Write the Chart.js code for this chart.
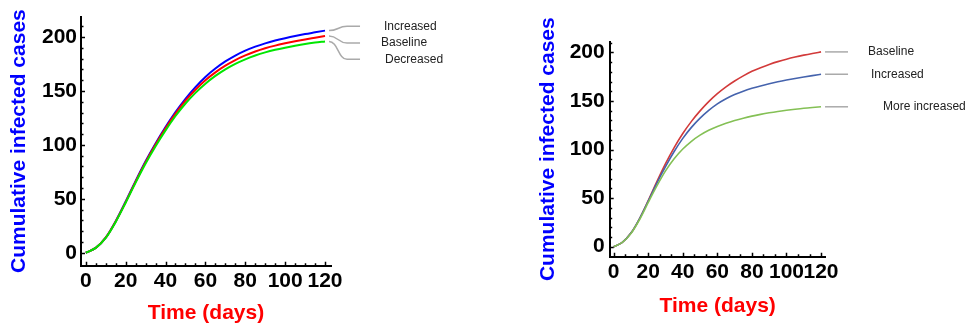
<!DOCTYPE html>
<html>
<head>
<meta charset="utf-8">
<script src="https://cdn.jsdelivr.net/npm/chart.js@4.4.1/dist/chart.umd.min.js"></script>
<style>
  body { margin: 0; background: #fff; width: 966px; height: 326px; overflow: hidden; position: relative; }
  canvas { position: absolute; top: 0; }
  #leftChart { left: 0; }
  #rightChart { left: 500px; }
</style>
</head>
<body>
<canvas id="leftChart" width="480" height="326"></canvas>
<canvas id="rightChart" width="466" height="326"></canvas>
<script>
// ===== Data =====
const days = [0, 5, 10, 15, 20, 25, 30, 35, 40, 45, 50, 55, 60, 65, 70, 75, 80, 85, 90, 95, 100, 105, 110, 115, 120];

// left panel
const leftIncreased = [0, 4.5, 14, 29.3, 47.5, 66.6, 84.8, 101.3, 116.5, 130.4, 142.8, 153.6, 163, 170.8, 177.4, 182.9, 187.4, 191.1, 194.2, 196.8, 199, 201, 202.8, 204.4, 206];
const leftBaseline  = [0, 4.5, 14, 29, 47, 66, 84, 100.5, 115.5, 129, 141, 151.2, 160, 167.3, 173.5, 178.7, 183, 186.6, 189.6, 192.1, 194.2, 196.1, 197.8, 199.4, 201];
const leftDecreased = [0, 4.5, 13.8, 28.6, 46.4, 65, 82.7, 98.8, 113.5, 126.8, 138.4, 148.3, 156.8, 164, 170.1, 175.2, 179.4, 182.9, 185.8, 188.2, 190.2, 192, 193.6, 194.9, 196];
const leftLabels = ["Increased", "Baseline", "Decreased"];

// right panel
const rightBaseline      = [0, 4.5, 14, 29, 47.5, 67, 85.5, 102, 116.5, 129, 139.8, 149.3, 157.5, 164.5, 170.5, 175.8, 180.5, 184.3, 187.6, 190.5, 193, 195.2, 197.15, 198.9, 200.5];
const rightIncreased     = [0, 4.5, 14, 29, 47, 65.5, 82.5, 98, 111.5, 122.8, 132.3, 140.3, 147, 152.3, 156.6, 160.1, 163, 165.5, 167.7, 169.7, 171.5, 173.15, 174.65, 176.1, 177.5];
const rightMoreIncreased = [0, 4.4, 13.6, 28, 45.5, 62.5, 78, 90.5, 100.5, 108.5, 114.8, 119.8, 123.8, 127.1, 129.9, 132.3, 134.4, 136.2, 137.8, 139.2, 140.4, 141.5, 142.5, 143.3, 144];
const rightLabels = ["Baseline", "Increased", "More increased"];

const xTicks = [0, 20, 40, 60, 80, 100, 120];
const yTicks = [0, 50, 100, 150, 200];

const FONT = "'Liberation Sans', Arial, Helvetica, sans-serif";

// ===== Inward axis ticks (major + minor) =====
const axisTicks = {
    id: "axisTicks",
    afterDraw(chart, args, o) {
        const { ctx, chartArea: a, scales: { x, y } } = chart;
        ctx.save();
        ctx.strokeStyle = "#000";
        ctx.lineWidth = 1.5;
        ctx.beginPath();
        for (let i = 0; i * o.xMinor <= x.max; i++) {
            const v = i * o.xMinor;
            const major = xTicks.some(t => Math.abs(t - v) < 1e-6);
            const px = Math.round(x.getPixelForValue(v)) + 0.5;
            ctx.moveTo(px, a.bottom);
            ctx.lineTo(px, a.bottom - (major ? 4 : 2.5));
        }
        for (let i = 0; i * o.yMinor <= y.max; i++) {
            const v = i * o.yMinor;
            const major = yTicks.some(t => Math.abs(t - v) < 1e-6);
            const py = Math.round(y.getPixelForValue(v)) + 0.5;
            ctx.moveTo(a.left, py);
            ctx.lineTo(a.left + (major ? 4 : 2.5), py);
        }
        ctx.stroke();
        ctx.restore();
    }
};

// ===== Callout labels at the end of each curve =====
const callouts = {
    id: "callouts",
    afterDraw(chart, args, o) {
        const { ctx } = chart;
        const y = chart.scales.y;
        ctx.save();
        ctx.font = "12px " + FONT;
        ctx.textBaseline = "middle";
        ctx.textAlign = "left";
        chart.data.datasets.forEach((ds, i) => {
            const pts = chart.getDatasetMeta(i).data;
            const end = pts[pts.length - 1];
            const x1 = end.x + 4, y1 = end.y;
            const yLab = o.labelValues ? y.getPixelForValue(o.labelValues[i]) : y1;
            ctx.strokeStyle = "#aaa";
            ctx.lineWidth = 1.5;
            ctx.beginPath();
            ctx.moveTo(x1, y1);
            if (o.curved) {
                ctx.bezierCurveTo(x1 + 9, y1, x1 + 9, yLab, x1 + 18, yLab);
                ctx.lineTo(x1 + 31, yLab);
            } else {
                ctx.lineTo(x1 + 23, yLab);
            }
            ctx.stroke();
            ctx.fillStyle = "#222";
            ctx.fillText(o.labels[i], end.x + o.textDx[i], yLab);
        });
        ctx.restore();
    }
};

// later series are drawn on top, like the original
function series(values, color, width, order) {
    return {
        data: days.map((d, i) => ({ x: d, y: values[i] })),
        borderColor: color,
        borderWidth: width,
        pointRadius: 0,
        cubicInterpolationMode: "monotone",
        fill: false,
        order: order
    };
}

function makeChart(id, datasets, cfg) {
    return new Chart(document.getElementById(id).getContext("2d"), {
        type: "line",
        data: { datasets },
        options: {
            responsive: false,
            animation: false,
            layout: { padding: cfg.padding },
            plugins: {
                legend: { display: false },
                tooltip: { enabled: false },
                axisTicks: cfg.ticks,
                callouts: cfg.callouts
            },
            scales: {
                x: {
                    type: "linear",
                    min: cfg.xMin, max: cfg.xMax,
                    afterBuildTicks: s => { s.ticks = xTicks.map(v => ({ value: v })); },
                    afterFit: s => { s.height = cfg.xHeight; },
                    grid: { display: false, drawTicks: false },
                    border: { display: true, color: "#000", width: 2 },
                    ticks: { color: "#000", padding: cfg.xTickPad, maxRotation: 0, autoSkip: false,
                             font: { family: FONT, size: 21, weight: "bold" } },
                    title: { display: true, text: "Time (days)", color: "#f00",
                             padding: { top: 0, bottom: cfg.xTitlePad },
                             font: { family: FONT, size: 21, weight: "bold" } }
                },
                y: {
                    type: "linear",
                    min: cfg.yMin, max: cfg.yMax,
                    afterBuildTicks: s => { s.ticks = yTicks.map(v => ({ value: v })); },
                    afterFit: s => { s.width = cfg.yWidth; },
                    grid: { display: false, drawTicks: false },
                    border: { display: true, color: "#000", width: 2 },
                    ticks: { color: "#000", padding: cfg.yTickPad,
                             font: { family: FONT, size: 21, weight: "bold" } },
                    title: { display: true, text: "Cumulative infected cases", color: "#00f",
                             padding: { top: cfg.yTitlePad, bottom: 0 },
                             font: { family: FONT, size: 21, weight: "bold" } }
                }
            }
        },
        plugins: [axisTicks, callouts]
    });
}

makeChart("leftChart", [
    series(leftIncreased, "#0000ff", 2, 3),
    series(leftBaseline, "#ff0000", 2, 2),
    series(leftDecreased, "#00e600", 2, 1)
], {
    padding: { top: 15, right: 149, bottom: 0, left: 0 },
    xMin: -2.4, xMax: 123, yMin: -12, yMax: 219,
    xHeight: 60.3, yWidth: 81,
    xTickPad: 3, yTickPad: 4, xTitlePad: 0, yTitlePad: 7,
    ticks: { xMinor: 5, yMinor: 10 },
    callouts: { labels: leftLabels, curved: true, labelValues: [210, 194.5, 179.5], textDx: [59, 56, 60] }
});

makeChart("rightChart", [
    series(rightBaseline, "#d23a3a", 1.6, 3),
    series(rightIncreased, "#4563ad", 1.6, 2),
    series(rightMoreIncreased, "#84c055", 1.6, 1)
], {
    padding: { top: 41.7, right: 140.3, bottom: 0, left: 0 },
    xMin: -2.3, xMax: 122.7, yMin: -10.3, yMax: 211,
    xHeight: 69.3, yWidth: 109.7,
    xTickPad: 3, yTickPad: 5, xTitlePad: 7, yTitlePad: 36,
    ticks: { xMinor: 20 / 3, yMinor: 10 },
    callouts: { labels: rightLabels, curved: false, textDx: [47, 50, 62] }
});
</script>
</body>
</html>
